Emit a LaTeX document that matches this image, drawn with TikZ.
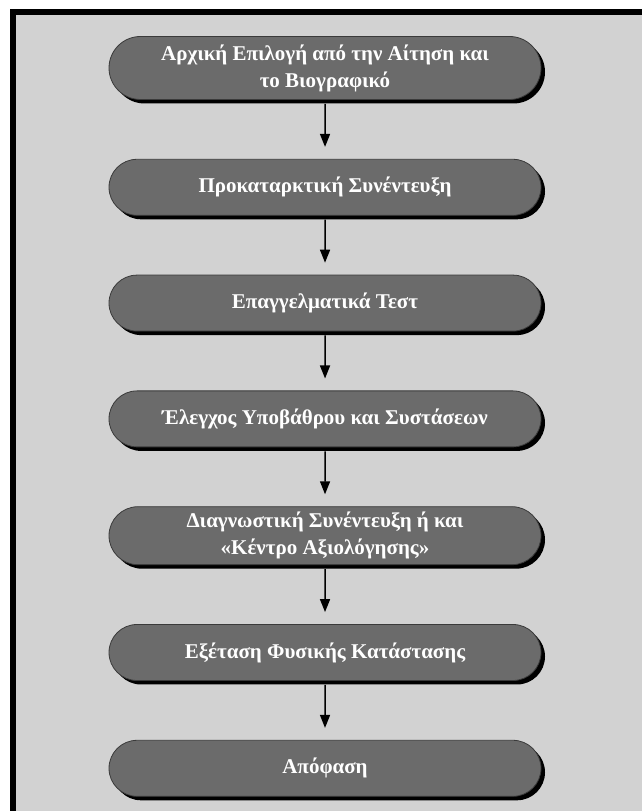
\documentclass[tikz,border=0pt]{standalone}
\usepackage{fontspec}
\setmainfont{Liberation Serif}
\usetikzlibrary{positioning, arrows.meta, shapes.misc, shadows}
\definecolor{page-grey}{HTML}{D2D2D2}
\definecolor{box-grey}{HTML}{6B6B6B}
\definecolor{box-edge}{HTML}{3A3A3A}

\begin{document}
\begin{tikzpicture}[x=1pt, y=1pt, node distance=59pt,
    phase/.style={rounded rectangle, draw=box-edge, line width=0.8pt, fill=box-grey,
      text=white, font=\fontsize{21}{27}\selectfont\bfseries, align=center,
      minimum width=438pt, minimum height=56pt, inner sep=3pt,
      drop shadow={shadow xshift=4pt, shadow yshift=-4pt, fill=black, opacity=1}},
    flow/.style={-{Triangle[length=13pt, width=10pt]}, line width=1.5pt,
      shorten <=4pt, shorten >=12pt}]
  % frame and background
  \useasboundingbox (0,0) rectangle (642,811);
  \fill[white] (0,0) rectangle (642,811);
  \fill[black] (10,0) rectangle (642,802);
  \fill[page-grey] (16,0) rectangle (642,796);
  % steps
  \node[phase, minimum height=63pt] (n1) at (325,743) {Αρχική Επιλογή από την Αίτηση και\\το Βιογραφικό};
  \node[phase, below =of n1] (n2) {Προκαταρκτική Συνέντευξη};
  \node[phase, below =of n2] (n3) {Επαγγελματικά Τεστ};
  \node[phase, below =of n3] (n4) {Έλεγχος Υποβάθρου και Συστάσεων};
  \node[phase, below =of n4, minimum height=58pt] (n5) {Διαγνωστική Συνέντευξη ή και\\«Κέντρο Αξιολόγησης»};
  \node[phase, below =of n5] (n6) {Εξέταση Φυσικής Κατάστασης};
  \node[phase, below =of n6] (n7) {Απόφαση};
  \draw
  (n1) edge[flow] (n2)
  (n2) edge[flow] (n3)
  (n3) edge[flow] (n4)
  (n4) edge[flow] (n5)
  (n5) edge[flow] (n6)
  (n6) edge[flow] (n7);
\end{tikzpicture}
\end{document}
